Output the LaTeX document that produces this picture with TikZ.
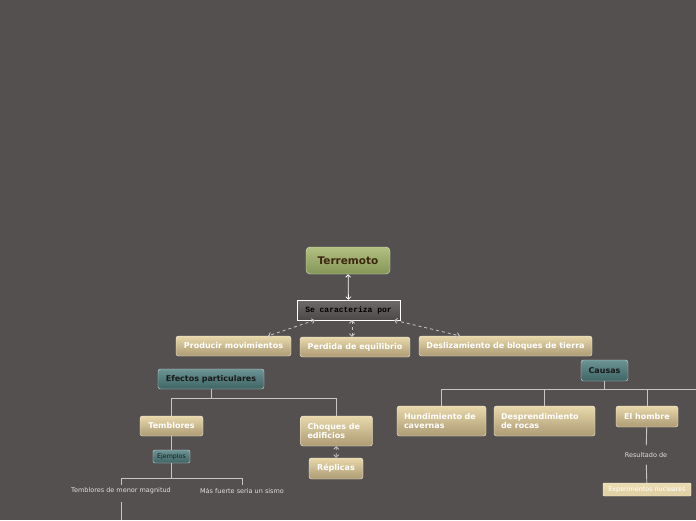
\documentclass[tikz,border=0pt]{standalone}
\usepackage{xcolor}
\usepackage{fontspec}
\setmainfont{DejaVu Sans}
\setmonofont{Liberation Mono}
\usetikzlibrary{arrows.meta, positioning}

\definecolor{bgcol}{RGB}{84,80,79}
\definecolor{tantop}{RGB}{232,216,170}
\definecolor{tanbot}{RGB}{172,155,116}
\definecolor{greentop}{RGB}{178,192,128}
\definecolor{greenbot}{RGB}{132,150,88}
\definecolor{tealtop}{RGB}{108,148,148}
\definecolor{tealbot}{RGB}{62,100,100}
\definecolor{rootcol}{RGB}{60,40,15}
\definecolor{linktop}{RGB}{110,106,105}
\definecolor{linkbot}{RGB}{76,72,71}
\definecolor{linecol}{RGB}{200,198,196}
\definecolor{notecol}{RGB}{225,222,220}

\begin{document}
\begin{tikzpicture}[x=1pt, y=-1pt,
    topic/.style={rectangle, draw=white!75!tantop, rounded corners=2.5pt, top color=tantop, bottom color=tanbot, text=white, font=\bfseries\fontsize{8}{9}\selectfont, minimum height=20pt, inner sep=0pt},
    twoline/.style={topic, align=left, inner xsep=7pt, text width=#1, minimum height=30pt},
    grouphead/.style={topic, draw=white!70!tealtop, top color=tealtop, bottom color=tealbot, text=black!90},
    root/.style={topic, draw=white!60!greentop, top color=greentop, bottom color=greenbot, text=rootcol, font=\bfseries\fontsize{10.5}{12}\selectfont, rounded corners=4pt},
    linkbox/.style={rectangle, draw=white, top color=linktop, bottom color=linkbot, text=black, font=\ttfamily\bfseries\fontsize{8}{9}\selectfont, inner sep=0pt, text depth=0.5pt, minimum height=20pt},
    note/.style={text=notecol, font=\fontsize{6.5}{8}\selectfont, inner sep=3pt},
    branch/.style={draw=linecol, line width=0.9pt},
    arrow/.style={{Straight Barb[length=2.5pt]}-{Straight Barb[length=2.5pt]}, draw=white, line width=0.8pt},
    dasharrow/.style={arrow, draw=linecol, dashed},
]
\fill[bgcol] (0,0) rectangle (696,520);
\useasboundingbox (0,0) rectangle (696,520);

% main topic
\node[root, minimum width=84pt, minimum height=27pt] (terremoto) at (348,260.5) {Terremoto};
\node[linkbox, minimum width=103pt] (secar) at (348.5,310) {Se caracteriza por};
\node[topic, minimum width=115pt] (producir) at (233.5,346) {Producir movimientos};
\node[topic, minimum width=110pt] (perdida) at (355,347) {Perdida de equilibrio};
\node[topic, minimum width=173pt] (deslizamiento) at (505.5,346) {Deslizamiento de bloques de tierra};

\draw[arrow] (terremoto) -- (secar);
\draw[dasharrow] ([xshift=18pt]secar.south west) -- ([xshift=-23pt]producir.north east);
\draw[dasharrow] ([xshift=3.5pt]secar.south) -- ([xshift=-3pt]perdida.north);
\draw[dasharrow] ([xshift=-6pt]secar.south east) -- ([xshift=41pt]deslizamiento.north west);

% efectos
\node[grouphead, minimum width=106pt] (efectos) at (211,379) {Efectos particulares};
\node[topic, minimum width=63pt] (temblores) at (171.5,426) {Temblores};
\node[twoline=58pt, minimum width=71pt] (choques) at (336.5,431) {Choques de\\edificios};
\node[topic, minimum width=54pt, minimum height=21pt] (replicas) at (336,468.5) {Réplicas};
\node[grouphead, minimum width=37pt, minimum height=13pt, rounded corners=2pt, font=\fontsize{6.3}{7}\selectfont] (ejemplos) at (171.5,456.5) {Ejemplos};
\node[note] (menor) at (121,491) {Temblores de menor magnitud};
\node[note] (sismo) at (242,491) {Más fuerte seria un sismo};
\coordinate (menorend) at (121,520);

\draw[branch] (efectos.south) -- ++(0,9) -| (temblores.north);
\draw[branch] (efectos.south) -- ++(0,9) -| (choques.north);
\draw[dasharrow] (choques) -- (replicas);
\draw[branch] (temblores) -- (ejemplos);
\draw[branch] (ejemplos.south) -- ++(0,15) -| (menor.north);
\draw[branch] (ejemplos.south) -- ++(0,15) -| (sismo.north);
\draw[branch] ([yshift=-5pt]menor.south) -- (menorend);

% causas
\node[grouphead, minimum width=47pt, minimum height=21pt] (causas) at (604.5,370.5) {Causas};
\node[twoline=75pt, minimum width=89pt] (hundimiento) at (441.5,421) {Hundimiento de\\cavernas};
\node[twoline=87pt, minimum width=101pt] (desprendimiento) at (544.5,421) {Desprendimiento\\de rocas};
\node[topic, minimum width=62pt, minimum height=21pt] (hombre) at (647,416.5) {El hombre};
\node[note, inner ysep=7pt] (resultado) at (646,455) {Resultado de};
\node[topic, minimum width=88pt, minimum height=13pt, rounded corners=1pt, top color=tantop!90!white, bottom color=tantop!85!tanbot, font=\fontsize{6.4}{7}\selectfont] (experimentos) at (647,489.5) {Experimentos nucleares};
\coordinate (causasend) at (696,389);

\draw[branch] (causas.south) -- ++(0,8) -| (hundimiento.north);
\draw[branch] (causas.south) -- ++(0,8) -| (desprendimiento.north);
\draw[branch] (causas.south) -- ++(0,8) -| (hombre.north);
\draw[branch] (causas.south) |- (causasend);
\draw[branch] (hombre) -- (resultado);
\draw[branch] (resultado) -- (experimentos);
\end{tikzpicture}
\end{document}
